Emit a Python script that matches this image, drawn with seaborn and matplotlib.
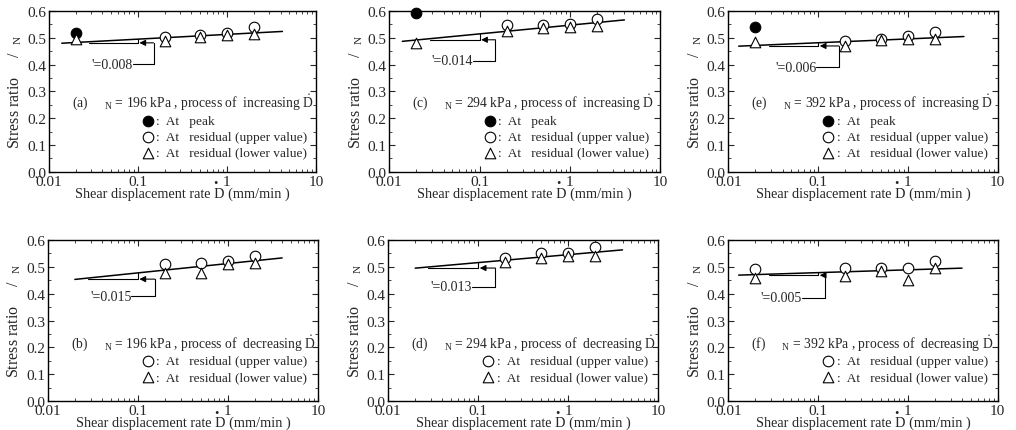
import matplotlib
matplotlib.use("Agg")
import numpy as np
import pandas as pd
import matplotlib.pyplot as plt
import seaborn as sns
from matplotlib.ticker import (MultipleLocator, LogLocator, FixedLocator,
                               NullFormatter, FormatStrFormatter, FixedFormatter)

sns.set_style("ticks")
plt.rcParams["font.family"] = ["Liberation Serif", "DejaVu Serif"]
plt.rcParams["mathtext.fontset"] = "custom"
plt.rcParams["mathtext.rm"] = "Liberation Serif"
plt.rcParams["mathtext.it"] = "Liberation Serif"

# shear displacement rates (mm/min)
rates_all = [0.02, 0.2, 0.5, 1, 2]
rates_res = [0.2, 0.5, 1, 2]

# (a) 196 kPa increasing
peak_a = [0.52]
upper_a = [0.505, 0.51, 0.52, 0.54]
lower_a = [0.495, 0.49, 0.505, 0.51, 0.515]
fit_x_a = [0.014, 4.2]
fit_y_a = [0.48, 0.524]

# (c) 294 kPa increasing
peak_c = [0.592]
upper_c = [0.548, 0.547, 0.55, 0.572]
lower_c = [0.482, 0.527, 0.538, 0.54, 0.545]
fit_x_c = [0.014, 4.0]
fit_y_c = [0.487, 0.567]

# (e) 392 kPa increasing
peak_e = [0.542]
upper_e = [0.489, 0.495, 0.507, 0.522]
lower_e = [0.483, 0.468, 0.493, 0.495, 0.495]
fit_x_e = [0.013, 4.2]
fit_y_e = [0.469, 0.505]

# (b) 196 kPa decreasing
upper_b = [0.51, 0.513, 0.52, 0.542]
lower_b = [0.478, 0.478, 0.51, 0.515]
fit_x_b = [0.02, 4.0]
fit_y_b = [0.453, 0.533]

# (d) 294 kPa decreasing
upper_d = [0.533, 0.552, 0.55, 0.572]
lower_d = [0.517, 0.532, 0.54, 0.54]
fit_x_d = [0.02, 4.0]
fit_y_d = [0.495, 0.563]

# (f) 392 kPa decreasing
upper_f = [0.492, 0.497, 0.497, 0.497, 0.52]
lower_f = [0.46, 0.465, 0.483, 0.452, 0.495]
fit_x_f = [0.013, 4.0]
fit_y_f = [0.469, 0.495]

panels = [
    dict(tag="(a)", stress="196", proc="increasing", peak=peak_a, peak_x=[0.02],
         upper=upper_a, upper_x=rates_res, lower=lower_a, lower_x=rates_all,
         fx=fit_x_a, fy=fit_y_a, slope="'=0.008", sy=0.402, bx=0.15, tx=0.088,
         rect=[0.048, 0.599, 0.263, 0.373]),
    dict(tag="(c)", stress="294", proc="increasing", peak=peak_c, peak_x=[0.02],
         upper=upper_c, upper_x=rates_res, lower=lower_c, lower_x=rates_all,
         fx=fit_x_c, fy=fit_y_c, slope="'=0.014", sy=0.415, bx=0.15, tx=0.085,
         rect=[0.383, 0.599, 0.267, 0.373]),
    dict(tag="(e)", stress="392", proc="increasing", peak=peak_e, peak_x=[0.02],
         upper=upper_e, upper_x=rates_res, lower=lower_e, lower_x=rates_all,
         fx=fit_x_e, fy=fit_y_e, slope="'=0.006", sy=0.39, bx=0.17, tx=0.095,
         rect=[0.717, 0.599, 0.265, 0.373]),
    dict(tag="(b)", stress="196", proc="decreasing", peak=None, peak_x=None,
         upper=upper_b, upper_x=rates_res, lower=lower_b, lower_x=rates_res,
         fx=fit_x_b, fy=fit_y_b, slope="'=0.015", sy=0.39, bx=0.155, tx=0.085,
         rect=[0.047, 0.067, 0.266, 0.374]),
    dict(tag="(d)", stress="294", proc="decreasing", peak=None, peak_x=None,
         upper=upper_d, upper_x=rates_res, lower=lower_d, lower_x=rates_res,
         fx=fit_x_d, fy=fit_y_d, slope="'=0.013", sy=0.425, bx=0.155, tx=0.085,
         rect=[0.382, 0.067, 0.266, 0.374]),
    dict(tag="(f)", stress="392", proc="decreasing", peak=None, peak_x=None,
         upper=upper_f, upper_x=rates_all, lower=lower_f, lower_x=rates_all,
         fx=fit_x_f, fy=fit_y_f, slope="'=0.005", sy=0.385, bx=0.12, tx=0.066,
         rect=[0.717, 0.067, 0.265, 0.374]),
]

fig = plt.figure(figsize=(10.16, 4.31), dpi=100)
ms = 58
for p in panels:
    ax = fig.add_axes(p["rect"])
    ax.set_xscale("log")

    # trend line
    sns.lineplot(x=p["fx"], y=p["fy"], ax=ax, color="black", lw=1.1)

    # slope triangle + bracket
    lx = np.log10(p["fx"])
    def fit_at(x):
        return np.interp(np.log10(x), lx, p["fy"])
    x0 = 0.028
    yh = fit_at(x0) - 0.004
    ax.plot([x0, 0.1, 0.1], [yh, yh, fit_at(0.1)], color="black", lw=0.8)
    ax.annotate("", xy=(0.104, yh), xytext=(p["bx"], yh),
                arrowprops=dict(arrowstyle="-|>", color="black", lw=0.8,
                                mutation_scale=9, shrinkA=0, shrinkB=0))
    ax.plot([p["bx"], p["bx"], p["tx"]], [yh, p["sy"], p["sy"]], color="black", lw=0.8)
    ax.text(p["tx"], p["sy"], p["slope"], ha="right", va="center", fontsize=10)

    # data points
    if p["peak"] is not None:
        sns.scatterplot(x=p["peak_x"], y=p["peak"], ax=ax, marker="o", s=ms,
                        color="black", edgecolor="black", linewidth=0.8,
                        zorder=4, clip_on=False)
    sns.scatterplot(x=p["upper_x"], y=p["upper"], ax=ax, marker="o", s=ms,
                    facecolor="white", edgecolor="black", linewidth=0.8, zorder=4)
    sns.scatterplot(x=p["lower_x"], y=p["lower"], ax=ax, marker="^", s=ms,
                    facecolor="white", edgecolor="black", linewidth=0.8, zorder=5)

    # in-panel legend text
    top = p["peak"] is not None
    ty = 0.262 if top else 0.22
    ax.text(0.018, ty, p["tag"] + "     $_{\\mathrm{N}}$ = " + p["stress"]
            + " kPa , process of  " + p["proc"] + " $\\dot{\\mathrm{D}}$",
            fontsize=9.8, va="center", ha="left")
    rows = []
    if top:
        rows.append(("o", "black", ":  At   peak", 0.19))
        rows.append(("o", "white", ":  At   residual (upper value)", 0.13))
        rows.append(("^", "white", ":  At   residual (lower value)", 0.072))
    else:
        rows.append(("o", "white", ":  At   residual (upper value)", 0.148))
        rows.append(("^", "white", ":  At   residual (lower value)", 0.088))
    for mk, fc, lab, ry in rows:
        ax.scatter([0.13], [ry], marker=mk, s=ms, facecolor=fc, edgecolor="black",
                   linewidth=0.8, zorder=4)
        ax.text(0.16, ry, lab, fontsize=9.6, va="center", ha="left")

    ax.set_xlim(0.01, 10)
    ax.set_ylim(0, 0.6)
    ax.xaxis.set_major_locator(FixedLocator([0.01, 0.1, 1, 10]))
    ax.xaxis.set_major_formatter(FixedFormatter(["0.01", "0.1", "1", "10"]))
    ax.xaxis.set_minor_locator(LogLocator(base=10, subs=np.arange(2, 10)))
    ax.xaxis.set_minor_formatter(NullFormatter())
    ax.yaxis.set_major_locator(MultipleLocator(0.1))
    ax.yaxis.set_minor_locator(MultipleLocator(0.05))
    ax.yaxis.set_major_formatter(FormatStrFormatter("%.1f"))
    ax.tick_params(which="both", direction="in", top=True, right=True,
                   labelsize=11, pad=2)
    ax.tick_params(which="major", length=4, width=0.8)
    ax.tick_params(which="minor", length=2.5, width=0.6)
    for sp in ax.spines.values():
        sp.set_linewidth(1.0)
        sp.set_color("black")

    ax.set_xlabel("Shear displacement rate D (mm/min )", fontsize=10.3, labelpad=-1)
    ax.set_ylabel("Stress ratio     /  $_{\\mathrm{N}}$", fontsize=11.5, labelpad=2)
    # stray rate dot printed near the "1" label
    ax.annotate(".", xy=(0.75, 0), xycoords=("data", "axes fraction"),
                xytext=(0, -5), textcoords="offset points", ha="center",
                va="center", fontsize=13, fontweight="bold")

fig.savefig("out.png", dpi=100)
